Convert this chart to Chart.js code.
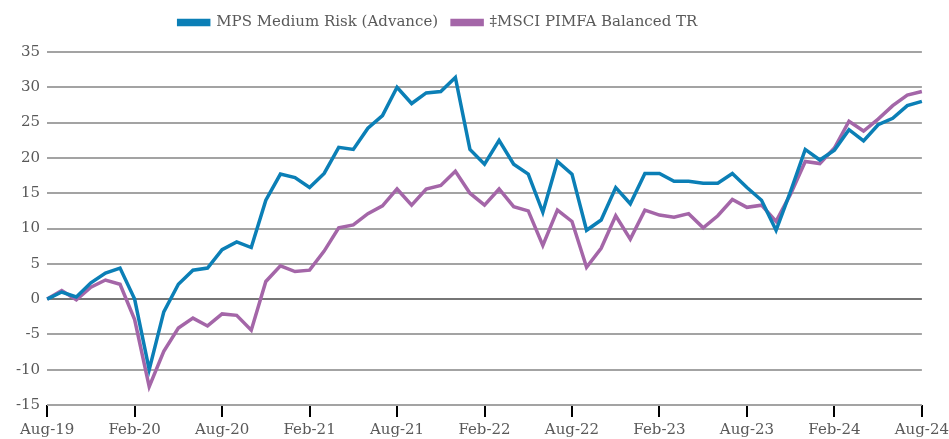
<!DOCTYPE html>
<html>
<head>
<meta charset="utf-8">
<script src="https://cdn.jsdelivr.net/npm/chart.js@4/dist/chart.umd.min.js"></script>
<style>
  html, body { margin: 0; padding: 0; background: #fff; overflow: hidden; }
  #wrap { width: 953px; height: 439px; position: relative; }
</style>
</head>
<body>
<div id="wrap"><canvas id="chart"></canvas></div>
<script>
let months = [
    'Aug-19', 'Sep-19', 'Oct-19', 'Nov-19', 'Dec-19', 'Jan-20',
    'Feb-20', 'Mar-20', 'Apr-20', 'May-20', 'Jun-20', 'Jul-20',
    'Aug-20', 'Sep-20', 'Oct-20', 'Nov-20', 'Dec-20', 'Jan-21',
    'Feb-21', 'Mar-21', 'Apr-21', 'May-21', 'Jun-21', 'Jul-21',
    'Aug-21', 'Sep-21', 'Oct-21', 'Nov-21', 'Dec-21', 'Jan-22',
    'Feb-22', 'Mar-22', 'Apr-22', 'May-22', 'Jun-22', 'Jul-22',
    'Aug-22', 'Sep-22', 'Oct-22', 'Nov-22', 'Dec-22', 'Jan-23',
    'Feb-23', 'Mar-23', 'Apr-23', 'May-23', 'Jun-23', 'Jul-23',
    'Aug-23', 'Sep-23', 'Oct-23', 'Nov-23', 'Dec-23', 'Jan-24',
    'Feb-24', 'Mar-24', 'Apr-24', 'May-24', 'Jun-24', 'Jul-24',
    'Aug-24'
]

// labels shown under the axis (every six months)
let shown_ticks = ['Aug-19', 'Feb-20', 'Aug-20', 'Feb-21', 'Aug-21', 'Feb-22',
    'Aug-22', 'Feb-23', 'Aug-23', 'Feb-24', 'Aug-24']

let mps_medium = [
    0, 1.0, 0.3, 2.3, 3.7, 4.4, 0, -10.0, -1.8, 2.1, 4.1, 4.4,
    7.0, 8.1, 7.3, 14.0, 17.7, 17.2, 15.8, 17.8, 21.5, 21.2, 24.2, 26.0,
    30.0, 27.7, 29.2, 29.4, 31.4, 21.2, 19.1, 22.5, 19.1, 17.7, 12.3, 19.5,
    17.7, 9.75, 11.2, 15.8, 13.5, 17.8, 17.8, 16.7, 16.7, 16.4, 16.4, 17.8,
    15.8, 14.0, 9.75, 15.3, 21.2, 19.7, 21.1, 24.0, 22.4, 24.7, 25.6, 27.4,
    28.0
]

let msci_pimfa = [
    0, 1.2, -0.1, 1.7, 2.7, 2.1, -2.9, -12.4, -7.4, -4.1, -2.7, -3.8,
    -2.1, -2.3, -4.4, 2.5, 4.7, 3.9, 4.1, 6.8, 10.1, 10.5, 12.1, 13.2,
    15.6, 13.3, 15.6, 16.1, 18.1, 15.0, 13.3, 15.6, 13.1, 12.5, 7.6, 12.6,
    11.0, 4.5, 7.2, 11.8, 8.5, 12.6, 11.9, 11.6, 12.1, 10.1, 11.8, 14.1,
    13.0, 13.3, 11.0, 14.9, 19.5, 19.2, 21.4, 25.2, 23.8, 25.5, 27.4, 28.9,
    29.4
]

let series_names = ['MPS Medium Risk (Advance)', '\u2021MSCI PIMFA Balanced TR']
let series_colors = ['#0b7fb6', '#a466a8']

const font_family = "'DejaVu Serif', 'Liberation Serif', serif"
const text_color = '#595959'

// legend: a bit more room under it, and nudged left like the original
const legendTweak = {
    id: 'legendTweak',
    beforeLayout(chart) {
        let lg = chart.legend
        if (lg && !lg._tweaked) {
            let fit = lg.fit
            lg.fit = function () {
                fit.call(this)
                this.height += 12
            }
            lg._tweaked = true
        }
    },
    afterLayout(chart) {
        chart.legend.left -= 43
        chart.legend.right -= 43
    }
}

let chart = new Chart(document.getElementById('chart').getContext('2d'), {
    type: 'line',
    data: {
        labels: months,
        datasets: [{
            label: series_names[0],
            data: mps_medium,
            borderColor: series_colors[0],
            backgroundColor: series_colors[0],
            borderWidth: 3.5,
            pointRadius: 0,
            tension: 0
        }, {
            label: series_names[1],
            data: msci_pimfa,
            borderColor: series_colors[1],
            backgroundColor: series_colors[1],
            borderWidth: 3.5,
            pointRadius: 0,
            tension: 0
        }]
    },
    plugins: [legendTweak],
    options: {
        responsive: true,
        maintainAspectRatio: false,
        animation: false,
        layout: { padding: { left: 9, right: 0, top: 1, bottom: -4 } },
        plugins: {
            tooltip: { enabled: false },
            legend: {
                position: 'top',
                labels: {
                    boxWidth: 30,
                    boxHeight: 4,
                    padding: 14,
                    color: text_color,
                    font: { family: font_family, size: 15 }
                }
            }
        },
        scales: {
            x: {
                type: 'category',
                offset: false,
                border: { display: false },
                grid: {
                    drawOnChartArea: false,
                    drawTicks: true,
                    tickLength: 12,
                    color: '#000',
                    lineWidth: 2
                },
                ticks: {
                    autoSkip: false,
                    maxRotation: 0,
                    padding: 4,
                    color: text_color,
                    font: { family: font_family, size: 15 },
                    callback: function (value) {
                        let lab = this.getLabelForValue(value)
                        return shown_ticks.includes(lab) ? lab : null
                    }
                }
            },
            y: {
                min: -15,
                max: 35,
                border: { display: false },
                grid: {
                    drawTicks: false,
                    lineWidth: 2,
                    color: (ctx) => ctx.tick && ctx.tick.value === 0 ? '#767676' : '#a3a3a3'
                },
                ticks: {
                    stepSize: 5,
                    padding: 7,
                    color: text_color,
                    font: { family: font_family, size: 15 }
                }
            }
        }
    }
})
</script>
</body>
</html>
